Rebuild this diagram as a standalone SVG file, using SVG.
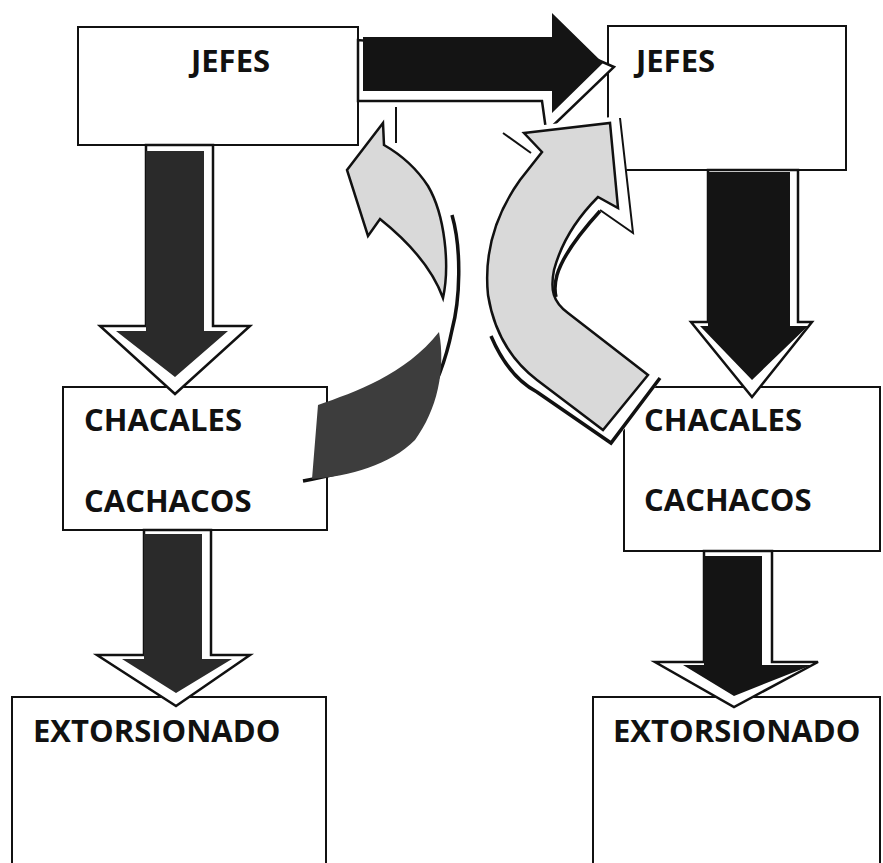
<svg xmlns="http://www.w3.org/2000/svg" width="883" height="863" viewBox="0 0 883 863">
<style>
.box{fill:#fff;stroke:#111;stroke-width:2}
.lbl{font-family:"Open Sans","Liberation Sans",sans-serif;font-weight:700;font-size:31px;fill:#111}
.ol{fill:#fff;stroke:#111;stroke-width:2.5;stroke-linejoin:miter}
.dk{fill:#141414}
.dk2{fill:#2a2a2a}
.dk3{fill:#3d3d3d}
.lt{fill:#d9d9d9;stroke:#111;stroke-width:2.5;stroke-linejoin:miter}
.sh{fill:none;stroke:#111;stroke-width:3.5;stroke-linecap:butt}
.thin{fill:none;stroke:#111;stroke-width:2}
</style>
<rect width="883" height="863" fill="#fff"/>

<g id="jefes-left">
<rect class="box" x="78" y="27" width="280" height="118"/>
<text class="lbl" x="191" y="72">JEFES</text>
</g>
<g id="jefes-right">
<rect class="box" x="608" y="26" width="238" height="144"/>
<text class="lbl" x="636" y="72">JEFES</text>
</g>
<g id="chacales-left">
<rect class="box" x="63" y="387" width="264" height="143"/>
<text class="lbl" x="84" y="431">CHACALES</text>
<text class="lbl" x="84" y="512">CACHACOS</text>
</g>
<g id="chacales-right">
<rect class="box" x="624" y="387" width="256" height="164"/>
<text class="lbl" x="644" y="431">CHACALES</text>
<text class="lbl" x="644" y="511">CACHACOS</text>
</g>
<g id="extorsionado-left">
<rect class="box" x="12" y="697" width="314" height="180"/>
<text class="lbl" x="33" y="742">EXTORSIONADO</text>
</g>
<g id="extorsionado-right">
<rect class="box" x="593" y="697" width="287" height="180"/>
<text class="lbl" x="613" y="742">EXTORSIONADO</text>
</g>

<g id="connectors">
<g id="arrow-jefes">
<path class="ol" d="M358,40 L358,101 L542,101 L546,130 L538,140 L614,67 L598,60 Z"/>
<path class="dk" d="M363,37 L552,37 L552,13 L603,63 L552,113 L552,91 L363,91 Z"/>
</g>
<g id="arrow-left-1">
<path class="ol" d="M146,145 L213,145 L213,326 L250,326 L175,394 L100,326 L146,326 Z"/>
<path class="dk2" d="M146,151 L204,151 L204,331 L228,331 L175,377 L116,331 L146,331 Z"/>
</g>
<g id="arrow-left-2">
<path class="ol" d="M144,530 L211,530 L211,655 L250,655 L176,706 L97,655 L144,655 Z"/>
<path class="dk2" d="M144,534 L202,534 L202,659 L232,659 L176,693 L122,659 L144,659 Z"/>
</g>
<g id="arrow-right-1">
<path class="ol" d="M708,170 L798,170 L798,322 L812,322 L752,397 L691,322 L708,322 Z"/>
<path class="dk" d="M708,172 L790,172 L790,326 L808,326 L752,380 L700,326 L708,326 Z"/>
</g>
<g id="arrow-right-2">
<path class="ol" d="M704,551 L772,551 L772,662 L818,662 L734,707 L655,662 L704,662 Z"/>
<path class="dk" d="M704,556 L762,556 L762,665 L812,665 L734,696 L683,665 L704,665 Z"/>
</g>
<g id="arrow-curve-left">
<path class="sh" d="M452,215 C462,250 460,300 452,330 C440,390 410,440 370,462 C350,472 325,477 303,481"/>
<path class="thin" d="M396,107 L396,143"/>
<path class="dk3" d="M318,405 C355,392 405,375 439,332 C446,370 437,410 415,440 C390,465 350,476 312,479 Z"/>
<path class="lt" d="M383,123 L347,170 L368,236 L380,219 C400,235 430,262 443,298 C450,265 445,215 428,186 C415,166 398,153 384,145 Z"/>
</g>
<g id="arrow-curve-right">
<path fill="#fff" d="M502,130 L620,116 L634,234 L600,212 C580,235 560,262 557,290 L662,378 L612,446 L537,394 C510,375 488,345 485,300 C482,250 495,200 502,130 Z"/>
<path class="sh" d="M491,336 C503,364 518,382 537,392 L611,443 L660,378"/>
<path class="sh" d="M600,211 C580,233 563,255 557,275 C554,286 555,293 556,297"/>
<path class="thin" d="M620,118 L633,233 L600,210"/>
<path class="thin" d="M503,133 L531,153"/>
<path class="lt" d="M524,133 L610,123 L618,208 L598,197 C580,215 562,240 554,270 C550,290 553,302 568,313 L648,375 L603,430 L537,380 C512,361 494,332 488,295 C484,255 495,215 520,180 L542,152 Z"/>
</g>
</g>
</svg>
